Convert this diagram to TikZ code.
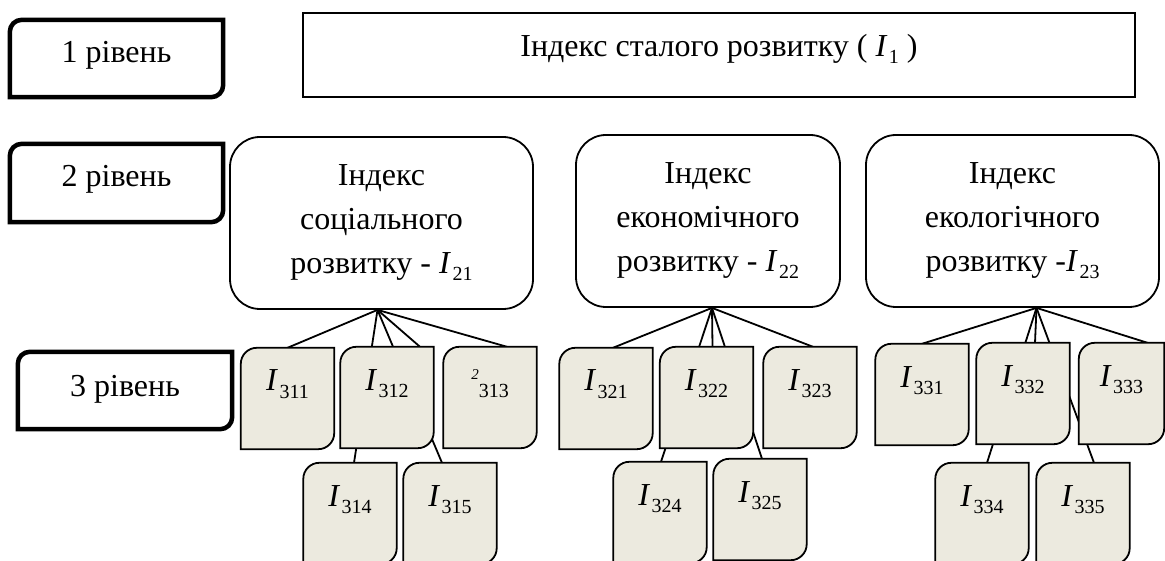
\documentclass[tikz,border=0pt]{standalone}
\usepackage{fontspec}
\setmainfont{Liberation Serif}
\usetikzlibrary{backgrounds}
\pgfdeclarelayer{boxes}
\pgfsetlayers{background,boxes,main}
\definecolor{leaffill}{RGB}{236,234,223}
\newcommand{\idx}[1]{\textit{I}\kern1.5pt\raisebox{-7pt}{\fontsize{20}{20}\selectfont #1}}
% outline with the upper left and lower right corners rounded
\newcommand{\diagshape}[3]{%
  \path[#1] ([yshift=-#3pt]#2.north west) arc[start angle=180,end angle=270,radius=#3]
    -- (#2.north east) -- ([yshift=#3pt]#2.south east)
    arc[start angle=0,end angle=90,radius=#3] -- (#2.south west) -- cycle;}
\begin{document}
\begin{tikzpicture}[x=1pt,y=-1pt,
  every node/.style={font=\fontsize{32}{44}\selectfont},
  lvlbox/.style={inner sep=0pt,minimum width=213pt,text height=43pt,text depth=34pt},
  branchbox/.style={draw,line width=1.8pt,rounded corners=30pt,fill=white,align=center,minimum height=172pt},
  leafbox/.style={inner sep=0pt,minimum width=93pt,text height=43pt,text depth=58pt},
  linkline/.style={line width=1.8pt},
  leafline/.style={draw,line width=1.8pt,fill=leaffill},
  lvlline/.style={draw,line width=4.5pt,fill=white}]
\useasboundingbox (0,0) rectangle (1165,561);
% levels
\node[lvlbox] (l1) at (116.5,58.5) {1 рівень};
\node[lvlbox,text depth=35pt] (l2) at (116.5,183) {2 рівень};
\node[lvlbox,minimum width=214pt,text height=44pt,text depth=33pt] (l3) at (125,390.5) {3 рівень};
% level 1
\node[draw,line width=1.3pt,inner sep=0pt,minimum width=832pt,text height=44pt,text depth=40pt]
  (i1) at (719,55) {Індекс сталого розвитку ( \idx{1} )};
% level 2
\node[branchbox,minimum width=303pt] (i21) at (381.5,223) {Індекс\\соціального\\розвитку - \idx{21}};
\node[branchbox,minimum width=264pt] (i22) at (708,221) {Індекс\\економічного\\розвитку - \idx{22}};
\node[branchbox,minimum width=293pt] (i23) at (1012.5,221) {Індекс\\екологічного\\розвитку -\idx{23}};
% level 3
\foreach \n/\x/\y in {311/287.5/398.5,312/387/397.5,314/350/513.5,315/450/513.5,
    321/606/398.5,322/706.5/397.5,323/810/397.5,324/660/512.5,325/760/509.5,
    331/922/394.5,332/1023/393.5,334/982/513.5,335/1083/513.5}
  \node[leafbox] (i\n) at (\x,\y) {\idx{\n}};
\node[leafbox] (i313) at (490,397.5)
  {\textit{\fontsize{15}{15}\selectfont\raisebox{10pt}{2}}\raisebox{-7pt}{\fontsize{20}{20}\selectfont 313}};
\node[leafbox,minimum width=85pt] (i333) at (1121.5,393.5) {\idx{333}};
\begin{pgfonlayer}{boxes}
\foreach \n in {l1,l2,l3}
  {\diagshape{lvlline}{\n}{12}}
\foreach \n in {311,312,313,314,315,321,322,323,324,325,331,332,333,334,335}
  {\diagshape{leafline}{i\n}{16}}
\end{pgfonlayer}
\begin{pgfonlayer}{background}
\foreach \t/\s in {i311/0,i312/33,i313/17,i314/4,i315/-8}
  \draw[linkline] ([xshift=-4pt]i21.south) -- ([xshift=\s pt]\t.north);
\foreach \t/\s in {i321/7,i322/6,i323/3,i324/1,i325/2}
  \draw[linkline] ([xshift=4pt]i22.south) -- ([xshift=\s pt]\t.north);
\foreach \t/\s in {i331/0,i332/12,i333/26,i334/5,i335/11}
  \draw[linkline] ([xshift=24pt]i23.south) -- ([xshift=\s pt]\t.north);
\end{pgfonlayer}
\end{tikzpicture}
\end{document}
